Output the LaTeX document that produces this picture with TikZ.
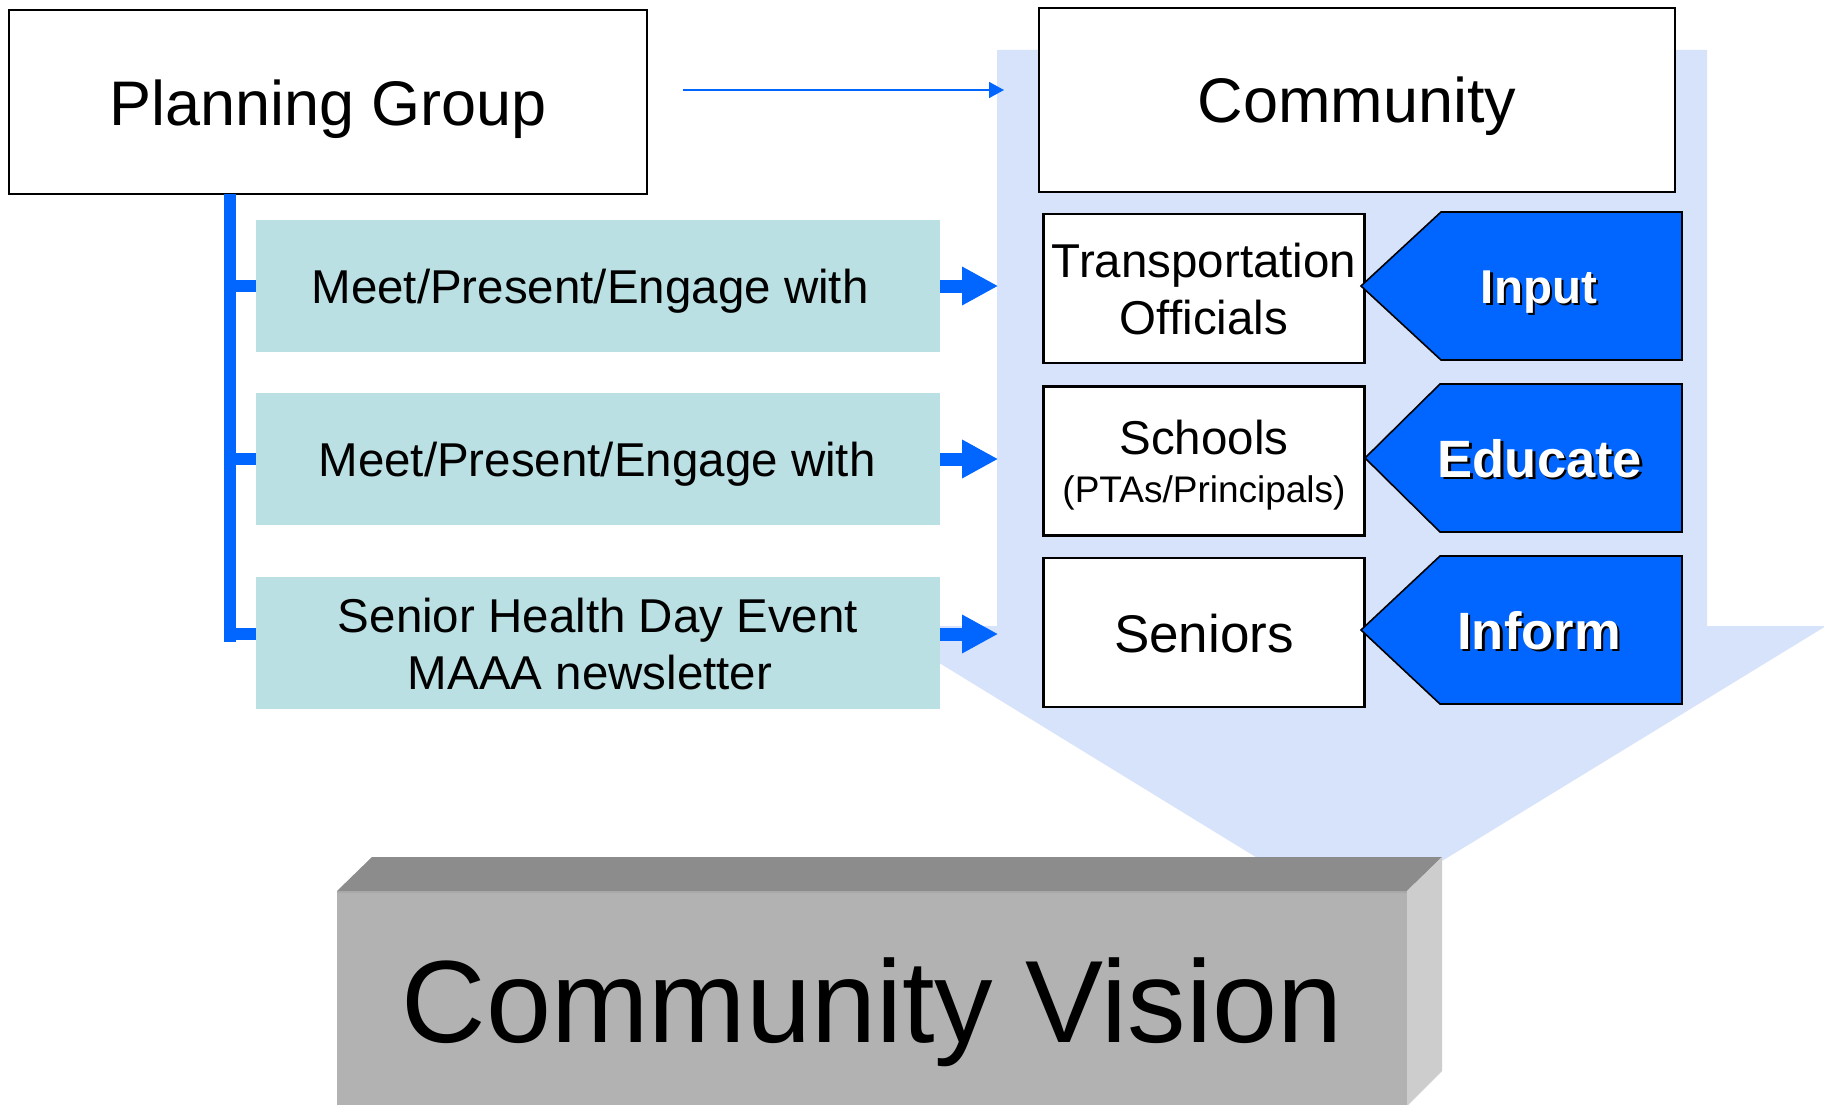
\documentclass[tikz,border=0pt]{standalone}
\usepackage{fontspec}
\setmainfont{Liberation Sans}
\usetikzlibrary{arrows.meta}
\definecolor{vblue}{RGB}{0,102,255}
\definecolor{tealbox}{RGB}{186,224,227}
\definecolor{patblue}{RGB}{214,227,250}
\definecolor{gtop}{RGB}{140,140,140}
\definecolor{gfront}{RGB}{178,178,178}
\definecolor{gside}{RGB}{205,205,205}
\tikzset{
  whitebox/.style={draw=black, line width=2.3pt, fill=white, inner sep=0pt},
  tealrect/.style={fill=tealbox, draw=none, inner sep=0pt, minimum width=684pt, minimum height=132pt},
  lbl/.style={inner sep=0pt, anchor=base, text=black},
  barline/.style={vblue, line width=12pt},
  tickline/.style={vblue, line width=12pt},
  fatarrow/.style={vblue, line width=13pt, -{Triangle[length=36pt,width=36pt]}},
  thinarrow/.style={vblue, line width=1.6pt, -{Triangle[length=15pt,width=16pt]}},
  tagshape/.style={fill=vblue, draw=black, line width=1.6pt, line join=miter},
  shadowtxt/.style={inner sep=0pt, anchor=base, text=black},
  whitetxt/.style={inner sep=0pt, anchor=base, text=white}
}
\begin{document}
\begin{tikzpicture}[x=1pt,y=-1pt]
\useasboundingbox (0,0) rectangle (1824,1105);
\fill[white] (0,0) rectangle (1824,1105);

% big light-blue downward arrow (background)
\fill[patblue] (997,50) -- (1707,50) -- (1707,626) -- (1826,626) -- (1352,916) -- (879,626) -- (997,626) -- cycle;

% Planning group
\node[whitebox, minimum width=638pt, minimum height=184pt] (plan) at (328,102) {};
\node[lbl, font=\fontsize{63}{70}\selectfont] (planT) at (328,126) {Planning Group};

% Community
\node[whitebox, minimum width=636pt, minimum height=184pt] (comm) at (1357,100) {};
\node[lbl, font=\fontsize{63}{70}\selectfont] (commT) at (1357,122.5) {Community};

% thin arrow
\coordinate (thinS) at (683,90);
\coordinate (thinE) at (1004,90);
\draw[thinarrow] (thinS) -- (thinE);

% teal boxes
\node[tealrect] (m1) at (598,286) {};
\node[tealrect] (m2) at (598,459) {};
\node[tealrect] (m3) at (598,643) {};
\node[lbl, font=\fontsize{47.5}{55}\selectfont] (m1T) at (590,303) {Meet/Present/Engage with};
\node[lbl, font=\fontsize{47.5}{55}\selectfont] (m2T) at (597,476) {Meet/Present/Engage with};
\node[lbl, font=\fontsize{47.5}{55}\selectfont] (m3T) at (598,632) {Senior Health Day Event};
\node[lbl, font=\fontsize{47.5}{55}\selectfont] (m3U) at (590,689) {MAAA newsletter};

% vertical bar and ticks
\coordinate (bartop) at (230,194);
\coordinate (barbot) at (230,642);
\draw[barline] (bartop) -- (barbot);
\draw[tickline] (bartop |- m1.west) ++(6,0) -- (m1.west);
\draw[tickline] (bartop |- m2.west) ++(6,0) -- (m2.west);
\draw[tickline] ([yshift=9pt]bartop |- m3.west) ++(6,0) -- ([yshift=9pt]m3.west);

% white target boxes
\node[whitebox, minimum width=321pt, minimum height=149pt] (w1) at (1204,288.5) {};
\node[whitebox, minimum width=321pt, minimum height=149pt] (w2) at (1204,461) {};
\node[whitebox, minimum width=321pt, minimum height=149pt] (w3) at (1204,632.5) {};
\node[lbl, font=\fontsize{47.5}{55}\selectfont] (w1T) at (1204,277) {Transportation};
\node[lbl, font=\fontsize{47.5}{55}\selectfont] (w1U) at (1204,334) {Officials};
\node[lbl, font=\fontsize{47.5}{55}\selectfont] (w2T) at (1204,454) {Schools};
\node[lbl, font=\fontsize{37}{44}\selectfont] (w2U) at (1204,502) {(PTAs/Principals)};
\node[lbl, font=\fontsize{53}{60}\selectfont] (w3T) at (1204,652) {Seniors};

% fat arrows teal -> white boxes
\draw[fatarrow] (m1.east) -- ([xshift=58pt]m1.east);
\draw[fatarrow] (m2.east) -- ([xshift=58pt]m2.east);
\draw[fatarrow] ([yshift=9pt]m3.east) -- ([yshift=9pt,xshift=58pt]m3.east);

% blue tags
\draw[tagshape] (1361,286) -- (1441,212) -- (1682,212) -- (1682,360) -- (1441,360) -- cycle;
\draw[tagshape] (1365,458) -- (1440,384) -- (1682,384) -- (1682,532) -- (1440,532) -- cycle;
\draw[tagshape] (1361,630) -- (1440,556) -- (1682,556) -- (1682,704) -- (1440,704) -- cycle;
\node[shadowtxt, font=\bfseries\fontsize{47.5}{55}\selectfont] (t1s) at (1541.5,305.5) {Input};
\node[whitetxt, font=\bfseries\fontsize{47.5}{55}\selectfont] (t1) at (1539,303) {Input};
\node[shadowtxt, font=\bfseries\fontsize{52.5}{60}\selectfont] (t2s) at (1542.5,479.5) {Educate};
\node[whitetxt, font=\bfseries\fontsize{52.5}{60}\selectfont] (t2) at (1540,477) {Educate};
\node[shadowtxt, font=\bfseries\fontsize{52.5}{60}\selectfont] (t3s) at (1541.5,651.5) {Inform};
\node[whitetxt, font=\bfseries\fontsize{52.5}{60}\selectfont] (t3) at (1539,649) {Inform};

% Community Vision 3D block
\fill[gtop] (337,891) -- (372,857) -- (1442,857) -- (1407,891) -- cycle;
\fill[gside] (1407,891) -- (1442,857) -- (1442,1071) -- (1407,1106) -- cycle;
\node[fill=gfront, draw=none, inner sep=0pt, minimum width=1070pt, minimum height=215pt] (cv) at (872,998.5) {};
\draw[line width=2pt, color={rgb,255:red,168;green,168;blue,168}] (337,892) -- (1407,892);
\node[lbl, font=\fontsize{117}{130}\selectfont] (cvT) at (872,1042) {Community Vision};
\end{tikzpicture}
\end{document}
